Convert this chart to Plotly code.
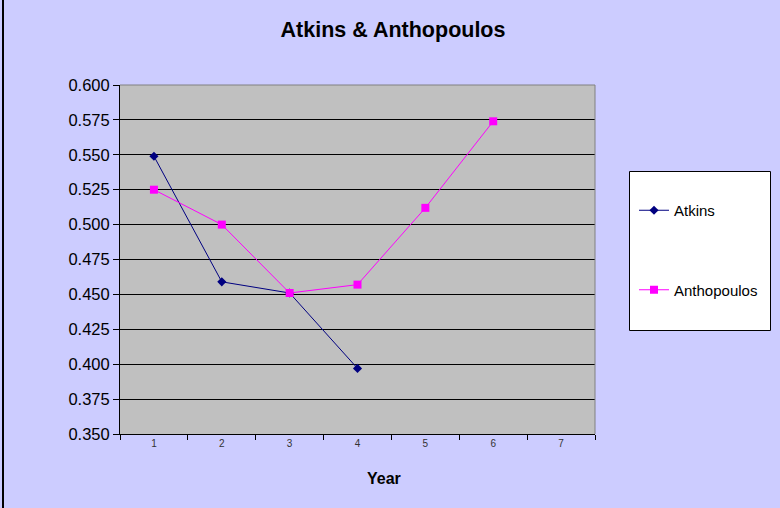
import plotly.graph_objects as go

years = ["1", "2", "3", "4", "5", "6", "7"]
atkins = [0.549, 0.459, 0.451, 0.397, None, None, None]
anthopoulos = [0.525, 0.500, 0.451, 0.457, 0.512, 0.574, None]
y_ticks = [0.350, 0.375, 0.400, 0.425, 0.450, 0.475, 0.500, 0.525, 0.550, 0.575, 0.600]

fig = go.Figure()
fig.add_trace(go.Scatter(
    x=years, y=atkins, name="Atkins", mode="lines+markers",
    line=dict(color="#000080", width=1),
    marker=dict(symbol="diamond", size=7, color="#000080"),
    legendgroup="a",
))
fig.add_trace(go.Scatter(
    x=years, y=anthopoulos, name="Anthopoulos", mode="lines+markers",
    line=dict(color="#FF00FF", width=1),
    marker=dict(symbol="square", size=8, color="#FF00FF"),
    legendgroup="b",
))

W, H = 780, 508
L, R, T, B = 120, 185, 85, 74
pw, ph = W - L - R, H - T - B

def px(x):
    return (x - L) / pw

def py(y):
    return (H - B - y) / ph

fig.update_layout(
    width=W, height=H,
    paper_bgcolor="#CCCCFF", plot_bgcolor="#C0C0C0",
    margin=dict(l=L, r=R, t=T, b=B),
    font=dict(family="Liberation Sans, Arial, sans-serif", color="#000000"),
    title=dict(text="<b>Atkins & Anthopoulos</b>", x=393/780, xanchor="center",
               y=1 - 29/508, yanchor="middle", font=dict(size=21.5)),
    showlegend=True,
    legend=dict(
        x=634/780, xanchor="left", y=1 - 194/508, yanchor="top",
        xref="container", yref="container",
        bgcolor="rgba(0,0,0,0)", borderwidth=0,
        font=dict(size=15), tracegroupgap=57, traceorder="grouped",
        itemwidth=30,
    ),
    xaxis=dict(
        type="category", categoryorder="array", categoryarray=years,
        range=[-0.5, 6.5],
        tickson="boundaries", ticks="outside", ticklen=5, tickcolor="#000000",
        showline=True, linecolor="#000000", linewidth=1,
        showgrid=False, tickfont=dict(size=10, color="#333333"),
        mirror=False,
    ),
    yaxis=dict(
        range=[0.350, 0.600], tickvals=y_ticks,
        tickformat=".3f", ticks="outside", ticklen=6, tickcolor="#000000",
        showline=True, linecolor="#000000", linewidth=1,
        showgrid=True, gridcolor="#000000", gridwidth=1,
        tickfont=dict(size=16.5), zeroline=False,
    ),
    annotations=[
        dict(text="<b>Year</b>", xref="paper", yref="paper", x=px(384), y=py(478),
             xanchor="center", yanchor="middle", showarrow=False, font=dict(size=16)),
    ],
    shapes=[
        dict(type="line", xref="paper", yref="paper", x0=0, x1=1, y0=1, y1=1,
             line=dict(color="#808080", width=1)),
        dict(type="line", xref="paper", yref="paper", x0=1, x1=1, y0=0, y1=1,
             line=dict(color="#808080", width=1)),
        dict(type="line", xref="paper", yref="paper", x0=px(3), x1=px(3), y0=py(H + 5), y1=py(-5),
             line=dict(color="#000000", width=2)),
        dict(type="rect", xref="paper", yref="paper", x0=px(629.5), x1=px(770.5), y0=py(330.5), y1=py(171.5),
             line=dict(color="#000000", width=1), fillcolor="#FFFFFF", layer="below"),
    ],
)

fig.write_html("out.html", config={"displayModeBar": False},
               post_script="document.body.style.margin='0';")
